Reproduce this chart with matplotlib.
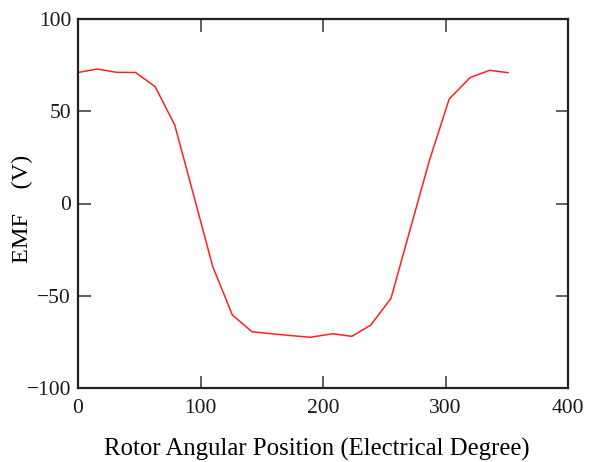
import matplotlib
matplotlib.use("Agg")
import matplotlib.pyplot as plt

# Data
angle = [0, 15.5, 31.5, 47, 63, 79, 95, 110, 126, 142, 158, 174, 189.5,
         208, 223.5, 239, 255.5, 271, 287, 303, 320, 336, 351]
emf = [71, 72.9, 71.1, 71, 63.3, 42.5, 3, -34.2, -60.4, -69.5, -70.6, -71.6, -72.5,
       -70.6, -72, -65.9, -51.4, -14.4, 23.6, 56.6, 68.2, 72.2, 70.9]

x_ticks = [0, 100, 200, 300, 400]
y_ticks = [-100, -50, 0, 50, 100]

plt.rcParams['font.family'] = ['Liberation Serif', 'DejaVu Serif']

fig = plt.figure(figsize=(6.03, 4.62), dpi=100)
ax = fig.add_axes([78/603, 1-388/462, 490/603, 369/462])

ax.plot(angle, emf, color='#ff2020', linewidth=1.1)

ax.set_xlim(0, 400)
ax.set_ylim(-100, 100)
ax.set_xticks(x_ticks)
ax.set_yticks(y_ticks)
ax.set_xticklabels([str(v) for v in x_ticks])
ax.set_yticklabels([str(v).replace('-', '\u2212') for v in y_ticks])

ax.tick_params(direction='in', length=9, width=1.2, color='#444444',
               top=True, right=True, labelsize=15.5, labelcolor='#1a1a1a')
ax.tick_params(axis='x', pad=8)
ax.tick_params(axis='y', pad=5)
for s in ax.spines.values():
    s.set_linewidth(1.6)
    s.set_color('#222222')

ax.set_xlabel('Rotor Angular Position (Electrical Degree)', fontsize=17.8)
ax.set_ylabel('EMF    (V)', fontsize=17.5)
ax.xaxis.set_label_coords(0.487, -0.136)
ax.yaxis.set_label_coords(-0.092, 0.485)

fig.savefig('out.png', dpi=100)
